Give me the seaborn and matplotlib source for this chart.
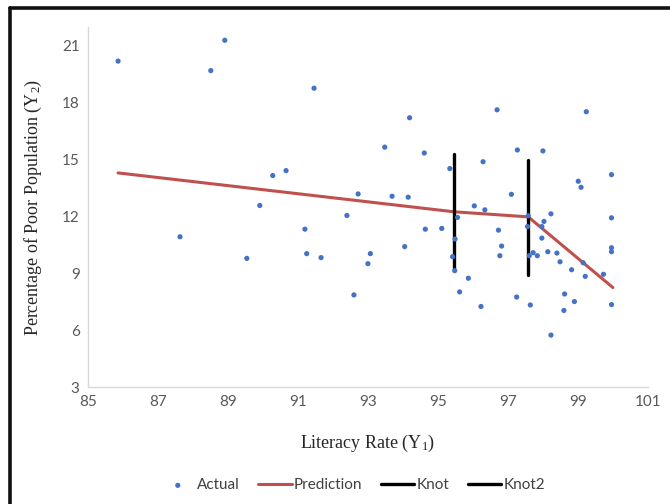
import pandas as pd
import seaborn as sns
import matplotlib.pyplot as plt
from matplotlib.lines import Line2D

literacy = [85.86, 87.63, 88.51, 88.91, 89.54, 89.91, 90.28, 90.66, 91.2, 91.25,
            91.66, 91.46, 92.4, 92.72, 92.6, 93.0, 93.07, 94.05, 94.64, 93.48,
            94.19, 94.61, 93.69, 94.15, 95.11, 95.34, 95.56, 95.49, 96.04, 96.34,
            96.29, 96.69, 97.27, 97.1, 96.73, 96.82, 98.0, 97.58, 97.56, 97.97,
            98.03, 97.97, 98.23, 99.24, 99.01, 99.09, 99.96, 99.96, 99.96, 95.42,
            95.48, 95.87, 95.62, 96.23, 96.77, 97.25, 97.64, 97.61, 97.72, 97.84,
            98.14, 98.4, 98.49, 98.82, 98.62, 98.6, 98.9, 98.23, 99.15, 99.21,
            99.73, 99.96, 99.96]
poor = [20.2, 10.93, 19.7, 21.3, 9.79, 12.58, 14.16, 14.42, 11.33, 10.04,
        9.83, 18.77, 12.05, 13.19, 7.86, 9.51, 10.04, 10.41, 11.33, 15.66,
        17.21, 15.35, 13.07, 13.02, 11.37, 14.53, 11.95, 10.81, 12.56, 12.35,
        14.89, 17.63, 15.51, 13.17, 11.28, 10.44, 15.46, 12.04, 11.47, 10.86,
        11.74, 11.47, 12.14, 17.53, 13.86, 13.54, 14.21, 11.93, 10.35, 9.88,
        9.14, 8.74, 8.02, 7.25, 9.93, 7.75, 7.33, 9.93, 10.09, 9.93,
        10.14, 10.07, 9.61, 9.19, 7.91, 7.04, 7.51, 5.74, 9.56, 8.84,
        8.95, 10.14, 7.35]

# Piecewise prediction
pred_x = [85.86, 95.45, 97.58, 100.0]
pred_y = [14.3, 12.25, 11.98, 8.25]

# Knot markers
knot_x = [95.45, 95.45]
knot_y = [9.15, 15.3]
knot2_x = [97.58, 97.58]
knot2_y = [8.9, 15.0]

sns.set_style("white")
plt.rcParams['font.family'] = ['Lato', 'DejaVu Sans']
plt.rcParams['mathtext.fontset'] = 'custom'
plt.rcParams['mathtext.rm'] = 'Liberation Serif'
plt.rcParams['mathtext.it'] = 'Liberation Serif:italic'

fig = plt.figure(figsize=(6.7, 5.04), dpi=100)
ax = fig.add_axes([0.1313, 0.2321, 0.8357, 0.7143])

df = pd.DataFrame({"x": literacy, "y": poor})
sns.scatterplot(data=df, x="x", y="y", ax=ax, color="#4472C4", s=14,
                edgecolor="none", label="Actual", zorder=3)
sns.lineplot(x=pred_x, y=pred_y, ax=ax, color="#C0504D", lw=2.2,
             estimator=None, sort=False, label="Prediction", zorder=2)
sns.lineplot(x=knot_x, y=knot_y, ax=ax, color="black", lw=2.4,
             estimator=None, sort=False, label="Knot", zorder=2)
sns.lineplot(x=knot2_x, y=knot2_y, ax=ax, color="black", lw=2.4,
             estimator=None, sort=False, label="Knot2", zorder=2)

ax.set_xlim(85, 101)
ax.set_ylim(3, 22)
ax.set_xticks(range(85, 102, 2))
ax.set_yticks(range(3, 22, 3))
ax.tick_params(axis="both", length=0, labelsize=11, labelcolor="#595959", pad=6)

for side in ["top", "right"]:
    ax.spines[side].set_visible(False)
for side in ["left", "bottom"]:
    ax.spines[side].set_color("#d9d9d9")
    ax.spines[side].set_linewidth(1.0)

ax.set_xlabel(r"Literacy Rate ($\mathrm{Y}_1$)", family="Liberation Serif",
              fontsize=13, color="#262626", labelpad=17)
ax.set_ylabel(r"Percentage of Poor Population ($\mathrm{Y}_2$)",
              family="Liberation Serif", fontsize=13, color="#262626", labelpad=13)

ax.legend(loc="center", bbox_to_anchor=(0.527, 0.037), bbox_transform=fig.transFigure,
          ncol=4, frameon=False, fontsize=11, handlelength=2.2, columnspacing=1.2,
          handletextpad=0.15, labelcolor="#404040", markerscale=1.0)

# dark frame on the left and top edges
fig.add_artist(Line2D([10 / 670, 10 / 670], [0, 1 - 8 / 504], color="#111111",
                      lw=2.6, transform=fig.transFigure))
fig.add_artist(Line2D([10 / 670, 1], [1 - 8 / 504, 1 - 8 / 504], color="#111111",
                      lw=2.6, transform=fig.transFigure))

fig.savefig("out.png", dpi=100)
